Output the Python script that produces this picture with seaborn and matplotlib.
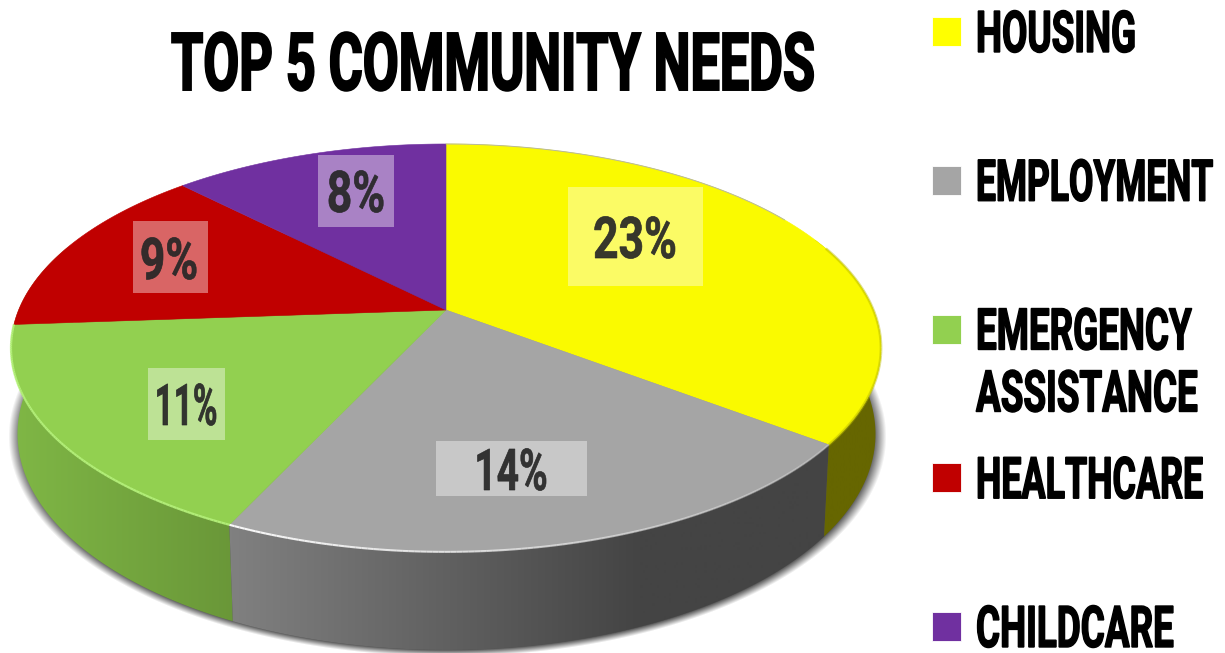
import numpy as np
import seaborn as sns
import matplotlib
matplotlib.use("Agg")
import matplotlib.pyplot as plt
from matplotlib.patheffects import AbstractPathEffect
from matplotlib.patches import Polygon, Rectangle
from matplotlib.collections import LineCollection
from matplotlib.transforms import Affine2D

# data
categories = ["HOUSING", "EMPLOYMENT", "EMERGENCY\nASSISTANCE", "HEALTHCARE", "CHILDCARE"]
values = [23, 14, 11, 9, 8]
value_labels = ["23%", "14%", "11%", "9%", "8%"]
title = "TOP 5 COMMUNITY NEEDS"

top_colors = ["#FAFA00", "#A5A5A5", "#92D050", "#C00000", "#7030A0"]
legend_colors = ["#FFFF00", "#A5A5A5", "#92D050", "#C00000", "#7030A0"]

sns.set_theme(style="white")
plt.rcParams["font.family"] = ["Roboto", "DejaVu Sans"]

fig = plt.figure(figsize=(12.25, 6.53), dpi=100)
ax = fig.add_axes([0, 0, 1, 1])
ax.set_xlim(0, 1225)
ax.set_ylim(653, 0)
ax.axis("off")

# the pie itself gives the angles, then it is tilted by hand below
pie_ax = fig.add_axes([0, 0, 0.1, 0.1])
wedges, _ = pie_ax.pie(values, startangle=90, counterclock=False, colors=sns.color_palette(top_colors))
pie_ax.set_visible(False)

K = 0.186


def tilt(theta, cx, cy, c, a):
    # perspective view of the unit circle
    t = np.radians(theta)
    x, y = np.cos(t), np.sin(t)
    d = 1 + K * y
    return np.column_stack([cx + c * x / d, cy - a * y / d])


def top(theta):
    return tilt(theta, 446, 310, 427.4, 196.9)


def bottom(theta):
    return tilt(theta, 446.5, 393.8, 421.5, 208.5)


class Tall(AbstractPathEffect):
    # no condensed poster font here, so small text gets stretched upward from the baseline
    def __init__(self, sy, stroke):
        super().__init__()
        self.sy = sy
        self.stroke = stroke

    def draw_path(self, renderer, gc, tpath, affine, rgbFace):
        gc0 = renderer.new_gc()
        gc0.copy_properties(gc)
        gc0.set_linewidth(self.stroke)
        gc0.set_joinstyle("miter")
        renderer.draw_path(gc0, tpath, Affine2D().scale(1, self.sy) + affine, rgbFace)
        gc0.restore()


def poster(x, y, s, size, cap, color="black", alpha=1, stroke=1.0, ha="left"):
    # cap = wanted capital height in pixels, Roboto capitals are 0.711 em
    sy = cap / (size * 100 / 72 * 0.711)
    t = ax.text(x, y, s, fontsize=size, color=color, alpha=alpha, fontweight="bold",
                ha=ha, va="baseline", zorder=10)
    t.set_path_effects([Tall(sy, stroke)])
    return t


# soft shadow under the pie
yy, xx = np.mgrid[0:653, 0:1225]
r = np.hypot((xx - 447) / 439, (yy - 436) / 220)
fade = np.clip((1 - r) * 330 / 10, 0, 1)
shadow = np.zeros((653, 1225, 4))
shadow[..., :3] = 0.33
shadow[..., 3] = fade
ax.imshow(shadow, extent=(0, 1225, 653, 0), aspect="auto", zorder=1, interpolation="bilinear")

# side walls, only the three front slices can be seen
wall_stops = [
    [(815, (102, 102, 0)), (885, (102, 102, 0))],
    [(225, (128, 128, 128)), (232, (128, 128, 128)), (640, (68, 68, 68)), (830, (68, 68, 68))],
    [(5, (128, 184, 70)), (240, (105, 150, 56))],
]
for i in [2, 1, 0]:
    w = wedges[i]
    t1, t2 = w.theta1, w.theta2
    if i == 2:
        t1 -= 24
    th = np.linspace(t1, t2, 120)
    pts = np.vstack([top(th), bottom(th[::-1])])
    poly = Polygon(pts, closed=True, facecolor="none", edgecolor="none", zorder=2)
    ax.add_patch(poly)
    stops = wall_stops[i]
    xs = np.arange(stops[0][0], stops[-1][0] + 1)
    grad = np.stack([np.interp(xs, [s[0] for s in stops], [s[1][c] for s in stops]) for c in range(3)], axis=-1)
    im = ax.imshow(grad[None, ...] / 255, extent=(xs[0], xs[-1], 653, 0), aspect="auto", zorder=2)
    im.set_clip_path(poly)

# top face
for w, col in zip(wedges, top_colors):
    th = np.linspace(w.theta1, w.theta2, 120)
    pts = np.vstack([[[446, 310]], top(th)])
    ax.add_patch(Polygon(pts, closed=True, facecolor=col, edgecolor=col, lw=0.4, zorder=3))

# bevel on the rim, bright on the left and fading towards the right
rim = [
    (0, "#B8B800", 2.0, 0.45, 0.45),
    (1, "#FFFFFF", 1.5, 0.25, 0.95),
    (2, "#B6F27C", 1.6, 0.9, 0.9),
]
for i, col, lw, a_right, a_left in rim:
    w = wedges[i]
    th = np.linspace(w.theta1, w.theta2, 120)
    pts = top(th)
    if i == 0:
        pts = pts[th < 20]
    segs = np.stack([pts[:-1], pts[1:]], axis=1)
    al = np.interp(segs[:, 0, 0], [pts[:, 0].min(), pts[:, 0].max()], [a_left, a_right])
    rgba = np.array([matplotlib.colors.to_rgba(col, a) for a in al])
    ax.add_collection(LineCollection(segs, colors=rgba, linewidths=lw, zorder=4))
ax.plot(*top(np.linspace(30, 90, 60)).T, color="#B8B8A0", lw=0.7, zorder=4)

# value labels on pale boxes
label_boxes = [(568, 187, 135, 99), (436, 441, 151, 55), (148, 368, 77, 72), (133, 221, 75, 72), (318, 155, 76, 72)]
label_pos = [(635, 258), (511, 490), (186, 425), (169, 279), (356, 212)]
label_sizes = [32, 28, 24, 32, 32]
for s, box, pos, size in zip(value_labels, label_boxes, label_pos, label_sizes):
    ax.add_patch(Rectangle(box[:2], box[2], box[3], facecolor="white", edgecolor="none", alpha=0.4, zorder=5))
    poster(pos[0], pos[1], s, size, 41, color="#262626", alpha=0.92, stroke=0.5, ha="center")

# title
poster(493, 90, title, 37.5, 57, stroke=1.4, ha="center")

# legend, swatches are evenly spaced
legend_sizes = [26.5, 25.5, 26.5, 25.8, 26.5]
for i, (name, col, size) in enumerate(zip(categories, legend_colors, legend_sizes)):
    yc = 32 + 148.75 * i
    ax.add_patch(Rectangle((932, yc - 15), 29, 29, facecolor=col, edgecolor="white", lw=0.6, zorder=6))
    lines = name.split("\n")
    for j, line in enumerate(lines):
        poster(976, yc + 20 + j * 62, line, size, 41, stroke=1.0)

ax.set_xlim(0, 1225)
ax.set_ylim(653, 0)
fig.savefig("out.png", dpi=100, facecolor="white")
